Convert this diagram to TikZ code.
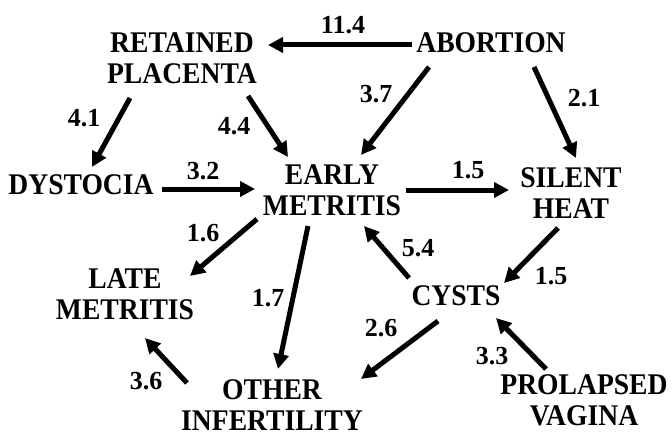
\documentclass[tikz,border=0pt]{standalone}
\usepackage{fontspec}
\setmainfont{Liberation Serif}
\newfontfamily\nodefamily[FakeStretch=0.92]{Liberation Serif Bold}
\newfontfamily\numfamily{Liberation Serif Bold}
\usetikzlibrary{arrows.meta}
\tikzset{
  disease/.style={inner sep=0pt, align=center, font=\nodefamily\fontsize{30}{31}\selectfont},
  weight/.style={inner sep=0pt, font=\numfamily\fontsize{26}{28}\selectfont},
  link/.style={line width=5pt, -{Triangle[length=15pt,width=15pt]}}
}
\begin{document}
\begin{tikzpicture}[x=1pt,y=-1pt]
\useasboundingbox (0,0) rectangle (672,433);
% nodes
\node[disease] (ab) at (491,43) {ABORTION};
\node[disease] (rp) at (182,58) {RETAINED\\PLACENTA};
\node[disease] (dy) at (81,185) {DYSTOCIA};
\node[disease] (em) at (332,190) {EARLY\\METRITIS};
\node[disease] (sh) at (571,193) {SILENT\\HEAT};
\node[disease] (lm) at (125,294) {LATE\\METRITIS};
\node[disease] (cy) at (456,296) {CYSTS};
\node[disease] (oi) at (272,405) {OTHER\\INFERTILITY};
\node[disease] (pv) at (584,400) {PROLAPSED\\VAGINA};
% connectors
\draw[link] ([shift={(-79,2)}]ab.center) -- ([shift={(86,-13)}]rp.center);
\draw[link] ([shift={(-62,24)}]ab.center) -- ([shift={(29,-35)}]em.center);
\draw[link] ([shift={(43,24)}]ab.center) -- ([shift={(5,-35)}]sh.center);
\draw[link] ([shift={(-52,40)}]rp.center) -- ([shift={(11,-18)}]dy.center);
\draw[link] ([shift={(66,38)}]rp.center) -- ([shift={(-44,-33)}]em.center);
\draw[link] ([shift={(81,4)}]dy.center) -- ([shift={(-77,-1)}]em.center);
\draw[link] ([shift={(74,0)}]em.center) -- ([shift={(-62,-3)}]sh.center);
\draw[link] ([shift={(-75,29)}]em.center) -- ([shift={(65,-18)}]lm.center);
\draw[link] ([shift={(-24,36)}]em.center) -- ([shift={(6,-36)}]oi.center);
\draw[link] ([shift={(-85,-22)}]oi.center) -- ([shift={(20,44)}]lm.center);
\draw[link] ([shift={(-47,-18)}]cy.center) -- ([shift={(32,36)}]em.center);
\draw[link] ([shift={(-13,35)}]sh.center) -- ([shift={(48,-13)}]cy.center);
\draw[link] ([shift={(-18,25)}]cy.center) -- ([shift={(89,-26)}]oi.center);
\draw[link] ([shift={(-38,-31)}]pv.center) -- ([shift={(40,22)}]cy.center);
% weights
\node[weight] (w1) at (343,25) {11.4};
\node[weight] (w2) at (376,94) {3.7};
\node[weight] (w3) at (584,98) {2.1};
\node[weight] (w4) at (84,118) {4.1};
\node[weight] (w5) at (234,126) {4.4};
\node[weight] (w6) at (203,171) {3.2};
\node[weight] (w7) at (468,170) {1.5};
\node[weight] (w8) at (203,233) {1.6};
\node[weight] (w9) at (268,298) {1.7};
\node[weight] (w10) at (146,381) {3.6};
\node[weight] (w11) at (418,248) {5.4};
\node[weight] (w12) at (551,276) {1.5};
\node[weight] (w13) at (381,328) {2.6};
\node[weight] (w14) at (492,356) {3.3};
\end{tikzpicture}
\end{document}
